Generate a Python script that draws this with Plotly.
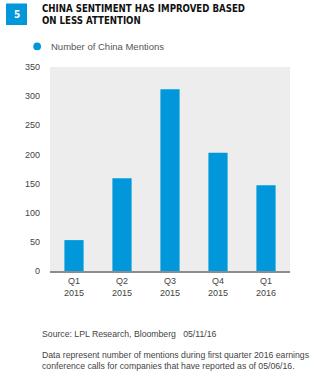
import plotly.graph_objects as go

quarters = ["Q1<br>2015", "Q2<br>2015", "Q3<br>2015", "Q4<br>2015", "Q1<br>2016"]
mentions = [53, 159, 312, 203, 147]
y_ticks = [0, 50, 100, 150, 200, 250, 300, 350]

BLUE = "#0098DA"
FONT = "Liberation Sans, Arial, sans-serif"
TITLE_FONT = "DejaVu Sans Condensed, DejaVu Sans, sans-serif"

fig = go.Figure()
fig.add_trace(go.Bar(
    x=quarters, y=mentions, marker_color=BLUE, width=0.4,
    marker_line_width=0, name="Number of China Mentions",
))

fig.update_layout(
    width=325, height=381,
    margin=dict(l=50, r=35, t=67, b=110),
    paper_bgcolor="white", plot_bgcolor="#EDEDED",
    showlegend=False,
    font=dict(family=FONT, color="#444", size=9),
    bargap=0.6,
)
fig.update_xaxes(
    showgrid=False, showline=True, linecolor="#8C8C8C", linewidth=2,
    tickfont=dict(size=9, color="#444"), ticks="",
)
fig.update_yaxes(
    range=[0, 350], tickvals=y_ticks, showgrid=False, zeroline=False,
    tickfont=dict(size=9, color="#444"), ticklabelstandoff=9,
)

# Header: numbered box and two-line title (pixel positions converted to paper units)
W, H0 = 240, 204
def px(x):
    return (x - 50) / W
def py(y):
    return (271 - y) / H0

fig.add_shape(type="rect", xref="paper", yref="paper",
              x0=px(6), x1=px(27), y0=py(25), y1=py(3.5),
              fillcolor=BLUE, line_width=0)
fig.add_annotation(xref="paper", yref="paper", x=px(16.5), y=py(14.5),
                   text="<b>5</b>", showarrow=False, font=dict(family=TITLE_FONT, size=10, color="white"),
                   xanchor="center", yanchor="middle")
fig.add_annotation(xref="paper", yref="paper", x=px(40), y=py(0.5),
                   text="<b>CHINA SENTIMENT HAS IMPROVED BASED<br>ON LESS ATTENTION</b>",
                   showarrow=False, align="left", xanchor="left", yanchor="top",
                   font=dict(family=TITLE_FONT, size=9.6, color="#111"))

# Legend marker and label
fig.add_shape(type="circle", xref="paper", yref="paper",
              x0=px(33.3), x1=px(41), y0=py(50.3), y1=py(42.6),
              fillcolor=BLUE, line_width=0)
fig.add_annotation(xref="paper", yref="paper", x=px(49), y=py(46.5),
                   text="Number of China Mentions", showarrow=False,
                   xanchor="left", yanchor="middle", font=dict(size=9.5, color="#555"))

# Footer
fig.add_annotation(xref="paper", yref="paper", x=px(40), y=py(327),
                   text="Source: LPL Research, Bloomberg   05/11/16", showarrow=False,
                   xanchor="left", yanchor="top", font=dict(size=8.7, color="#444"))
fig.add_annotation(xref="paper", yref="paper", x=px(40), y=py(348),
                   text="Data represent number of mentions during first quarter 2016 earnings<br>"
                        "conference calls for companies that have reported as of 05/06/16.",
                   showarrow=False, align="left", xanchor="left", yanchor="top",
                   font=dict(size=8.7, color="#444"))

fig.write_html("out.html")
